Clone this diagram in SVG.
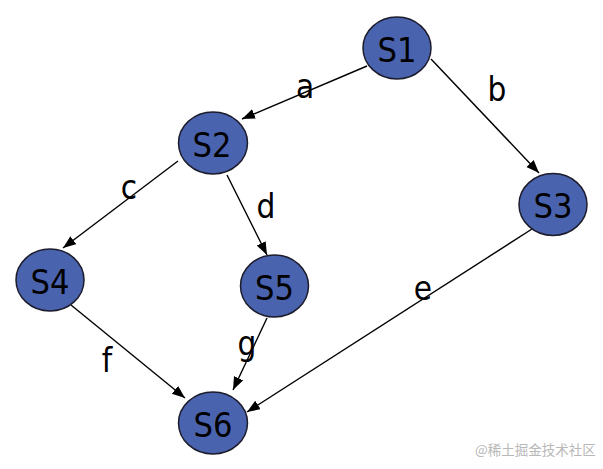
<svg xmlns="http://www.w3.org/2000/svg" width="603" height="469" viewBox="0 0 603 469">
<defs>
<style>
.node ellipse{fill:#4a63ae;stroke:#1c1c2c;stroke-width:1.5}
.node text{font-family:"DejaVu Sans Condensed","DejaVu Sans",sans-serif;font-size:34px;fill:#000;text-anchor:middle;dominant-baseline:central}
.edge{stroke:#000;stroke-width:1.4;fill:none;marker-end:url(#arr)}
.lbl{font-family:"DejaVu Sans Condensed","DejaVu Sans",sans-serif;font-size:33px;fill:#000;text-anchor:middle;dominant-baseline:central}
.wm{font-family:"Noto Sans CJK SC",sans-serif;font-size:13.5px;fill:#b8b8b8}
</style>
<marker id="arr" markerUnits="userSpaceOnUse" markerWidth="14" markerHeight="12" refX="13" refY="5" orient="auto">
<path d="M0,0 L13,5 L0,10 Z" fill="#000"/>
</marker>
</defs>
<rect width="603" height="469" fill="#fff"/>
<g id="connectors">
<path class="edge" d="M367,66 L242,119"/>
<path class="edge" d="M431,59 L539,173"/>
<path class="edge" d="M178,161 L63,248"/>
<path class="edge" d="M227,175 L267,255"/>
<path class="edge" d="M532,229 L247,412"/>
<path class="edge" d="M71,305 L185,398"/>
<path class="edge" d="M267,318 L233,390"/>
</g>
<g id="labels">
<text class="lbl" x="305" y="86">a</text>
<text class="lbl" x="497" y="89">b</text>
<text class="lbl" x="129" y="187">c</text>
<text class="lbl" x="266" y="206">d</text>
<text class="lbl" x="423" y="288">e</text>
<text class="lbl" x="107" y="360">f</text>
<text class="lbl" x="247" y="343">g</text>
</g>
<g id="S1" class="node"><ellipse cx="397" cy="48" rx="34" ry="31"/><text x="397" y="49.5">S1</text></g>
<g id="S2" class="node"><ellipse cx="213" cy="143" rx="34.5" ry="31"/><text x="212" y="144.5">S2</text></g>
<g id="S3" class="node"><ellipse cx="553" cy="204.5" rx="34" ry="31"/><text x="553" y="206">S3</text></g>
<g id="S4" class="node"><ellipse cx="50" cy="280" rx="34" ry="31"/><text x="50" y="281.5">S4</text></g>
<g id="S5" class="node"><ellipse cx="274.5" cy="286" rx="34" ry="31"/><text x="274.5" y="287.5">S5</text></g>
<g id="S6" class="node"><ellipse cx="213" cy="423" rx="34.5" ry="31"/><text x="213" y="424.5">S6</text></g>
<text class="wm" x="475" y="455">@稀土掘金技术社区</text>
</svg>
